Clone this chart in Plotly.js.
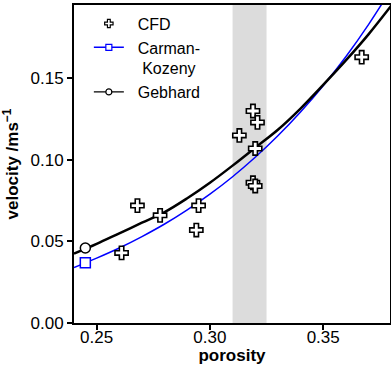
<!DOCTYPE html>
<html>
<head>
<meta charset="utf-8">
<script src="https://cdn.plot.ly/plotly-3.0.1.min.js"></script>
<style>html,body{margin:0;padding:0;background:#fff;}#chart{width:391px;height:365px;}</style>
</head>
<body>
<div id="chart"></div>
<script>
// CFD simulation results
const cfdPorosity = [0.261, 0.268, 0.278, 0.295, 0.294, 0.313, 0.319, 0.321, 0.320, 0.319, 0.320, 0.367];
const cfdVelocity = [0.043, 0.072, 0.066, 0.072, 0.057, 0.115, 0.130, 0.123, 0.107, 0.086, 0.084, 0.163];

// Model curves
const curvePorosity = [0.24, 0.25, 0.26, 0.27, 0.28, 0.29, 0.30, 0.31, 0.32, 0.33, 0.34, 0.35, 0.36, 0.37, 0.38];
const carmanKozeny  = [0.0340, 0.0398, 0.0460, 0.0530, 0.0607, 0.0694, 0.0790, 0.0897, 0.1016, 0.1148, 0.1294, 0.1455, 0.1633, 0.1830, 0.2047];
const gebhard       = [0.0425, 0.0485, 0.0550, 0.0615, 0.0680, 0.0765, 0.0860, 0.0965, 0.1075, 0.1185, 0.1315, 0.1460, 0.1610, 0.1770, 0.1945];

// reference point markers
const refPorosity = [0.245];
const ckRef = [0.037];
const gebRef = [0.046];

// highlighted porosity band
const bandRange = [0.31, 0.325];

const xTicks = [0.25, 0.30, 0.35];
const yTicks = [0.00, 0.05, 0.10, 0.15];

const NB = '\u00a0';
const legendNames = [NB + NB + 'CFD', NB + NB + 'Carman-<br>' + NB + NB + NB + 'Kozeny', NB + NB + 'Gebhard'];

const FONT = 'Liberation Sans, Arial, sans-serif';

const traces = [
  // plotted data (not in legend)
  {x: curvePorosity, y: carmanKozeny, mode: 'lines', line: {color: '#0000ff', width: 1.5, shape: 'spline'},
   showlegend: false, hoverinfo: 'skip'},
  {x: curvePorosity, y: gebhard, mode: 'lines', line: {color: '#000000', width: 2.5, shape: 'spline'},
   showlegend: false, hoverinfo: 'skip'},
  {x: refPorosity, y: ckRef, mode: 'markers', showlegend: false,
   marker: {symbol: 'square', size: 10, color: '#ffffff', line: {color: '#0000ff', width: 1.5}}},
  {x: refPorosity, y: gebRef, mode: 'markers', showlegend: false,
   marker: {symbol: 'circle', size: 10, color: '#ffffff', line: {color: '#000000', width: 1.5}}},
  {x: cfdPorosity, y: cfdVelocity, mode: 'markers', showlegend: false,
   marker: {symbol: 'cross', size: 11, color: '#ffffff', line: {color: '#000000', width: 1.6}}},
  // legend entries
  {x: [null], y: [null], mode: 'markers', name: legendNames[0], legendrank: 1,
   marker: {symbol: 'cross', size: 7, color: '#ffffff', line: {color: '#000000', width: 1.2}}},
  {x: [null], y: [null], mode: 'lines+markers', name: legendNames[1], legendrank: 2,
   line: {color: '#0000ff', width: 1.5},
   marker: {symbol: 'square', size: 6, color: '#ffffff', line: {color: '#0000ff', width: 1.2}}},
  {x: [null], y: [null], mode: 'lines+markers', name: legendNames[2], legendrank: 3,
   line: {color: '#000000', width: 1.2},
   marker: {symbol: 'circle', size: 6, color: '#ffffff', line: {color: '#000000', width: 1.2}}}
];

const layout = {
  width: 391, height: 365,
  margin: {l: 74, r: 1, t: 5, b: 42},
  paper_bgcolor: '#ffffff', plot_bgcolor: '#ffffff',
  font: {family: FONT, size: 17, color: '#000'},
  showlegend: true,
  legend: {x: 0.047, y: 0.995, xanchor: 'left', yanchor: 'top', bgcolor: 'rgba(0,0,0,0)',
           font: {family: FONT, size: 16}, itemsizing: 'trace', valign: 'top'},
  xaxis: {
    range: [0.24, 0.3795], tickvals: xTicks, tickformat: '.2f',
    ticks: 'outside', ticklen: 5, tickwidth: 2, tickcolor: '#000',
    showline: true, linewidth: 2, linecolor: '#000', mirror: true,
    showgrid: false, zeroline: false, ticklabelstandoff: -7,
    tickfont: {family: FONT, size: 17},
    title: {text: '<b>porosity</b>', font: {family: FONT, size: 17}, standoff: 2}
  },
  yaxis: {
    range: [0, 0.195], tickvals: yTicks, tickformat: '.2f',
    ticks: 'outside', ticklen: 5, tickwidth: 2, tickcolor: '#000',
    showline: true, linewidth: 2, linecolor: '#000', mirror: true,
    showgrid: false, zeroline: false,
    tickfont: {family: FONT, size: 17},
    title: {text: '<b>velocity /ms<sup>\u22121</sup></b>', font: {family: FONT, size: 17}, standoff: 8}
  },
  shapes: [{type: 'rect', xref: 'x', yref: 'paper', x0: bandRange[0], x1: bandRange[1], y0: 0, y1: 1,
            fillcolor: '#dcdcdc', line: {width: 0}, layer: 'below'}]
};

Plotly.newPlot('chart', traces, layout, {displayModeBar: false, staticPlot: true});
</script>
</body>
</html>
